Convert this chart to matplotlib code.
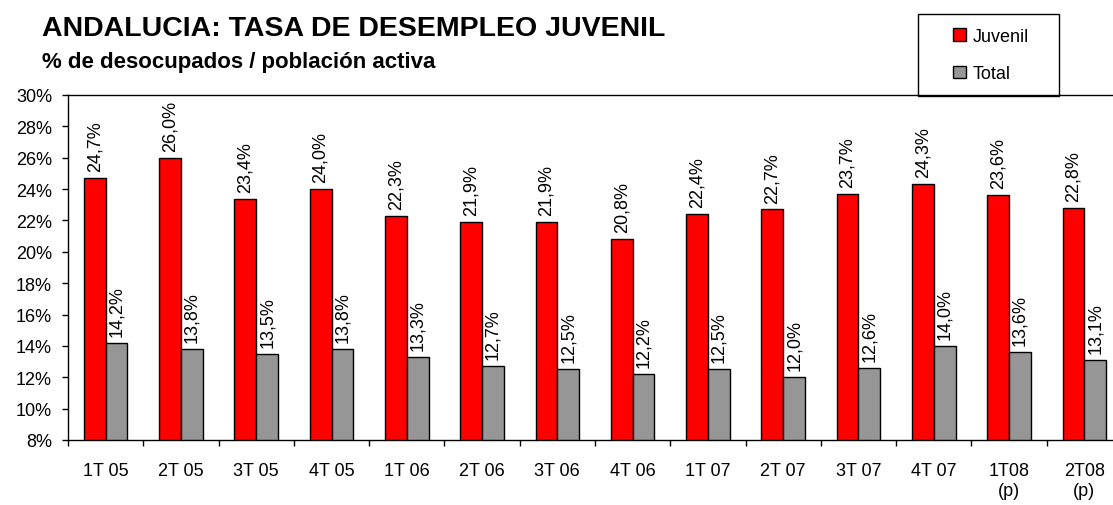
import matplotlib
matplotlib.use("Agg")
import matplotlib.pyplot as plt
from matplotlib.patches import Patch, Rectangle
from matplotlib.ticker import FixedLocator, NullFormatter
import numpy as np

plt.rcParams['font.family'] = ['Liberation Sans', 'DejaVu Sans']

categories = ["1T 05", "2T 05", "3T 05", "4T 05", "1T 06", "2T 06", "3T 06", "4T 06",
              "1T 07", "2T 07", "3T 07", "4T 07", "1T08\n(p)", "2T08\n(p)"]
juvenil = [24.7, 26.0, 23.4, 24.0, 22.3, 21.9, 21.9, 20.8, 22.4, 22.7, 23.7, 24.3, 23.6, 22.8]
total = [14.2, 13.8, 13.5, 13.8, 13.3, 12.7, 12.5, 12.2, 12.5, 12.0, 12.6, 14.0, 13.6, 13.1]
series_names = ["Juvenil", "Total"]
colors = ["#FF0000", "#969696"]

W, H = 1113, 506
fig = plt.figure(figsize=(W / 100, H / 100), dpi=100)
ax = fig.add_axes([68 / W, (H - 441) / H, 1054 / W, 345 / H])

x = np.arange(len(categories))
bw = 0.29
b1 = ax.bar(x - bw / 2, juvenil, bw, color=colors[0], edgecolor="black", linewidth=1.0, zorder=2)
b2 = ax.bar(x + bw / 2, total, bw, color=colors[1], edgecolor="black", linewidth=1.0, zorder=2)

for bars, vals in ((b1, juvenil), (b2, total)):
    for rect, v in zip(bars, vals):
        ax.annotate(f"{v:.1f}%".replace(".", ","),
                    (rect.get_x() + rect.get_width() / 2, v),
                    xytext=(0, 5), textcoords="offset points",
                    rotation=90, ha="center", va="bottom", fontsize=13)

ax.set_xlim(-0.5, len(categories) - 0.5)
ax.set_ylim(8, 30)
ax.set_yticks(np.arange(8, 31, 2))
ax.set_yticklabels([f"{t}%" for t in range(8, 31, 2)], fontsize=13)
ax.set_xticks(x)
ax.set_xticklabels(categories, fontsize=13, linespacing=1.3)
ax.xaxis.set_minor_locator(FixedLocator(np.arange(-0.5, len(categories), 1.0)))
ax.xaxis.set_minor_formatter(NullFormatter())
ax.tick_params(axis="x", which="major", length=0, pad=15.5)
ax.tick_params(axis="x", which="minor", length=4.5, width=1.0, direction="out")
ax.tick_params(axis="y", length=4.5, width=1.0, direction="out", pad=7)

for s in ("left", "bottom", "top"):
    ax.spines[s].set_linewidth(1.0)
    ax.spines[s].set_color("black")
ax.spines["right"].set_visible(False)

fig.text(42 / W, 1 - 36 / H, "ANDALUCIA: TASA DE DESEMPLEO JUVENIL",
         fontsize=20.5, fontweight="bold", ha="left", va="baseline")
fig.text(42 / W, 1 - 68 / H, "% de desocupados / población activa",
         fontsize=16, fontweight="bold", ha="left", va="baseline")

# legend box
fig.add_artist(Rectangle((918 / W, 1 - 97 / H), 141 / W, 82 / H, transform=fig.transFigure,
                         fill=False, edgecolor="black", linewidth=1.0))
handles = [Patch(facecolor=c, edgecolor="black", linewidth=1.0) for c in colors]
fig.legend(handles, series_names, loc="upper left", bbox_to_anchor=(953 / W, 1 - 29 / H),
           frameon=False, borderpad=0, borderaxespad=0, fontsize=13,
           handlelength=0.7, handleheight=0.7, handletextpad=0.4, labelspacing=1.12)

fig.savefig("out.png", dpi=100)
